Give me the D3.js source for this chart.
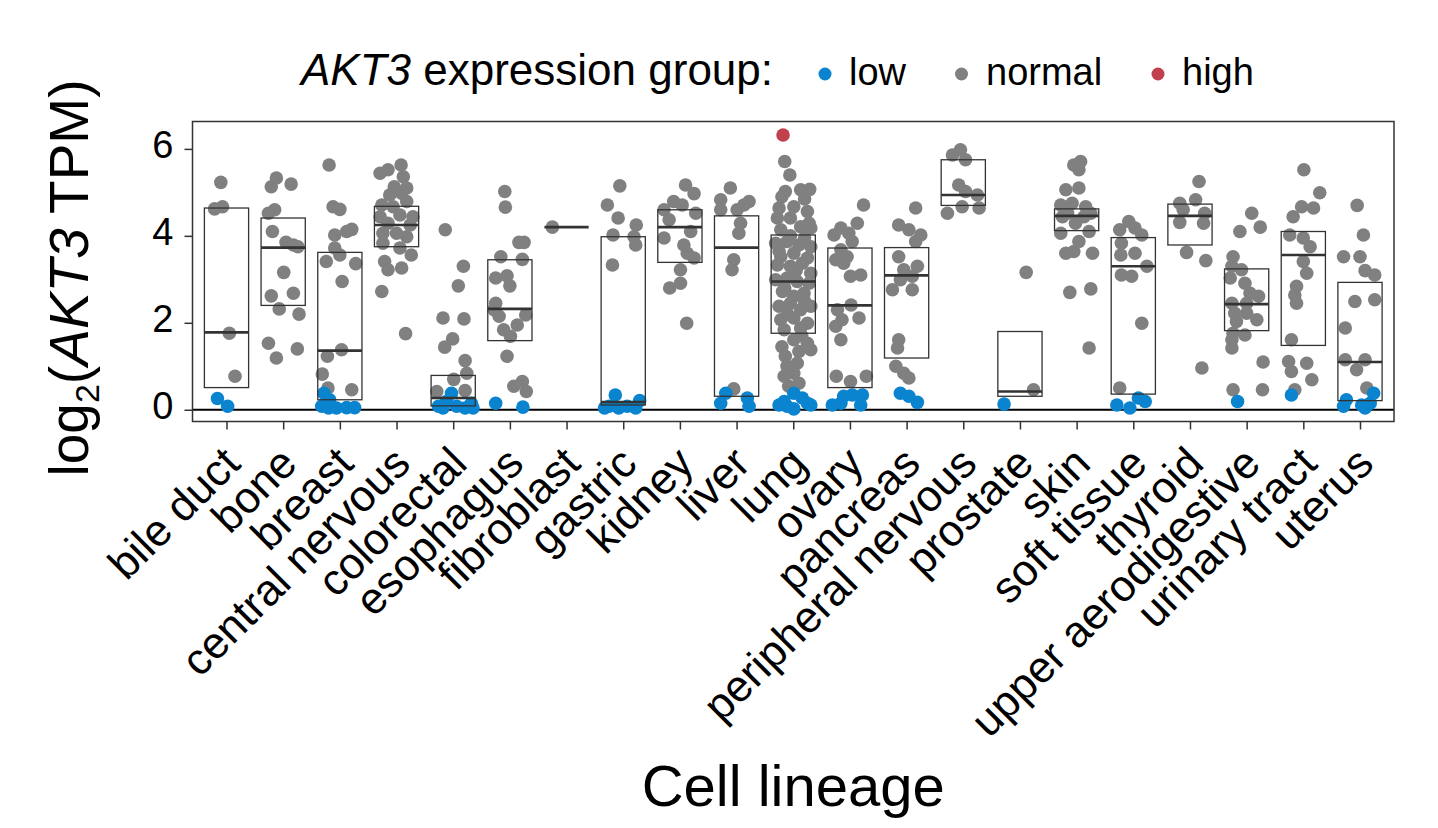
<!DOCTYPE html>
<html>
<head>
<meta charset="utf-8">
<script src="https://cdn.jsdelivr.net/npm/d3@7"></script>
<style>
  html, body { margin: 0; padding: 0; background: #fff; }
  svg { display: block; font-family: "Liberation Sans", Arial, Helvetica, sans-serif; }
</style>
</head>
<body>
<svg id="chart" width="1438" height="828"></svg>
<script>
// ---------------- DATA ----------------
const categories = ["bile duct","bone","breast","central nervous","colorectal","esophagus","fibroblast","gastric","kidney","liver","lung","ovary","pancreas","peripheral nervous","prostate","skin","soft tissue","thyroid","upper aerodigestive","urinary tract","uterus"];

// box statistics (Q1, median, Q3) per category
const boxQ1     = [0.51,2.40,0.23,3.75,0.09,1.59,4.20,0.11,3.39,0.31,1.76,0.51,1.19,4.70,0.31,4.12,0.36,3.79,1.82,1.48,0.21];
const boxMedian = [1.78,3.73,1.36,4.25,0.27,2.32,4.20,0.18,4.20,3.73,2.95,2.40,3.09,4.94,0.42,4.46,3.30,4.46,2.43,3.56,1.10];
const boxQ3     = [4.64,4.41,3.62,4.68,0.79,3.45,4.20,3.98,4.60,4.46,4.02,3.72,3.73,5.75,1.80,4.62,3.96,4.73,3.24,4.10,2.93];

const yTicks = [0, 2, 4, 6];
const groups = ["low", "normal", "high"];

// cell lines per lineage: [jitter (fraction of category step), log2 TPM, group]
const ptsBileDuct = [[-0.10,5.23,"n"],[-0.21,4.62,"n"],[-0.07,4.67,"n"],[0.05,1.76,"n"],[0.15,0.77,"n"],[-0.16,0.26,"l"],[0.02,0.08,"l"]];
const ptsBone = [[-0.12,5.33,"n"],[-0.21,5.13,"n"],[0.14,5.19,"n"],[-0.26,4.52,"n"],[-0.15,4.60,"n"],[-0.19,4.10,"n"],[0.05,3.85,"n"],[0.18,3.79,"n"],[0.26,3.75,"n"],[0.01,3.16,"n"],[-0.21,2.62,"n"],[0.18,2.68,"n"],[-0.07,2.32,"n"],[0.28,2.20,"n"],[-0.26,1.53,"n"],[-0.12,1.19,"n"],[0.25,1.40,"n"]];
const ptsBreast = [[-0.19,5.63,"n"],[-0.12,4.67,"n"],[0.00,4.61,"n"],[-0.09,4.02,"n"],[0.12,4.10,"n"],[0.21,4.15,"n"],[-0.09,3.72,"n"],[0.00,3.56,"n"],[-0.24,3.41,"n"],[0.28,3.36,"n"],[0.04,2.95,"n"],[0.03,1.38,"n"],[-0.22,1.23,"n"],[-0.31,0.82,"n"],[-0.21,0.50,"n"],[0.21,0.46,"n"],
  [-0.28,0.38,"l"],[-0.18,0.23,"l"],[-0.32,0.08,"l"],[-0.20,0.04,"l"],[-0.06,0.04,"l"],[0.12,0.05,"l"],[0.26,0.05,"l"]];
const ptsCentralNervous = [[0.08,5.63,"n"],[-0.29,5.44,"n"],[-0.15,5.52,"n"],[0.12,5.36,"n"],[-0.04,5.13,"n"],[0.18,5.10,"n"],[-0.12,4.94,"n"],[0.09,4.98,"n"],[-0.26,4.71,"n"],[0.18,4.79,"n"],[-0.06,4.67,"n"],[0.29,4.44,"n"],[-0.29,4.44,"n"],[0.06,4.48,"n"],[-0.15,4.29,"n"],[0.24,4.25,"n"],[-0.24,4.06,"n"],[0.00,4.06,"n"],[0.18,3.98,"n"],[-0.24,3.83,"n"],[0.06,3.72,"n"],[0.26,3.56,"n"],[-0.21,3.41,"n"],[0.09,3.26,"n"],[-0.15,3.22,"n"],[-0.26,2.72,"n"],[0.16,1.75,"n"]];
const ptsColorectal = [[-0.14,4.14,"n"],[0.18,3.30,"n"],[0.09,2.85,"n"],[-0.18,2.11,"n"],[0.19,2.09,"n"],[-0.01,1.63,"n"],[-0.15,1.44,"n"],[0.21,1.13,"n"],[0.01,0.70,"n"],[0.24,0.84,"n"],[-0.29,0.42,"n"],[0.21,0.44,"n"],
  [-0.26,0.08,"l"],[-0.12,0.19,"l"],[-0.03,0.38,"l"],[0.06,0.08,"l"],[0.21,0.04,"l"],[0.32,0.15,"l"],[-0.18,0.04,"l"],[0.35,0.04,"l"]];
const ptsEsophagus = [[-0.09,5.02,"n"],[-0.08,4.66,"n"],[0.16,3.85,"n"],[0.25,3.85,"n"],[-0.16,3.52,"n"],[0.22,3.46,"n"],[-0.25,3.03,"n"],[-0.05,3.08,"n"],[0.00,2.85,"n"],[-0.25,2.45,"n"],[-0.28,2.30,"n"],[-0.19,2.15,"n"],[0.28,2.18,"n"],[0.13,1.95,"n"],[-0.11,1.84,"n"],[0.01,1.69,"n"],[-0.05,1.23,"n"],[0.07,0.54,"n"],[0.22,0.65,"n"],[0.29,0.42,"n"],
  [-0.25,0.15,"l"],[0.23,0.06,"l"]];
const ptsFibroblast = [[-0.25,4.20,"n"]];
const ptsGastric = [[-0.06,5.15,"n"],[-0.28,4.71,"n"],[-0.09,4.41,"n"],[0.23,4.25,"n"],[-0.18,4.02,"n"],[0.19,3.98,"n"],[0.22,3.79,"n"],[-0.19,3.33,"n"],
  [-0.14,0.34,"l"],[-0.25,0.08,"l"],[-0.08,0.04,"l"],[0.07,0.08,"l"],[0.22,0.04,"l"],[0.29,0.21,"l"],[-0.33,0.04,"l"]];
const ptsKidney = [[0.10,5.17,"n"],[0.25,4.97,"n"],[-0.11,4.79,"n"],[0.04,4.71,"n"],[-0.28,4.60,"n"],[0.28,4.52,"n"],[-0.19,4.37,"n"],[0.19,4.10,"n"],[-0.28,3.95,"n"],[0.07,3.79,"n"],[0.13,3.60,"n"],[0.25,3.49,"n"],[0.01,3.22,"n"],[0.01,2.91,"n"],[-0.18,2.80,"n"],[0.12,1.99,"n"]];
const ptsLiver = [[-0.11,5.10,"n"],[-0.28,4.83,"n"],[0.22,4.79,"n"],[0.01,4.60,"n"],[0.13,4.71,"n"],[-0.28,4.60,"n"],[0.07,4.29,"n"],[0.04,4.06,"n"],[-0.05,3.45,"n"],[-0.08,3.22,"n"],[-0.05,0.48,"n"],
  [-0.19,0.38,"l"],[-0.28,0.15,"l"],[0.19,0.27,"l"],[0.22,0.08,"l"]];
const ptsLung = [[-0.18,6.32,"h"],
  [-0.15,5.71,"n"],[-0.06,5.40,"n"],[-0.14,5.02,"n"],[0.13,5.06,"n"],[0.29,5.07,"n"],[-0.20,4.90,"n"],[0.20,4.85,"n"],
  [-0.25,4.64,"n"],[0.01,4.67,"n"],[0.25,4.56,"n"],[-0.28,4.41,"n"],[-0.05,4.41,"n"],[0.28,4.29,"n"],
  [-0.22,4.14,"n"],[0.13,4.21,"n"],[0.31,4.18,"n"],[-0.05,4.00,"n"],[0.20,3.95,"n"],
  [-0.31,3.83,"n"],[-0.11,3.87,"n"],[0.10,3.79,"n"],[0.31,3.75,"n"],[-0.25,3.65,"n"],
  [-0.22,3.52,"n"],[0.01,3.60,"n"],[0.25,3.49,"n"],[-0.28,3.33,"n"],[-0.05,3.30,"n"],[0.16,3.37,"n"],[0.31,3.14,"n"],[0.05,3.20,"n"],
  [-0.31,2.99,"n"],[-0.11,3.03,"n"],[0.07,2.95,"n"],[0.28,2.91,"n"],[-0.15,2.80,"n"],
  [-0.19,2.72,"n"],[0.01,2.61,"n"],[0.19,2.68,"n"],[0.20,2.50,"n"],
  [-0.25,2.38,"n"],[-0.05,2.45,"n"],[0.13,2.30,"n"],[0.31,2.38,"n"],[-0.10,2.20,"n"],
  [-0.22,2.07,"n"],[0.01,2.11,"n"],[0.25,1.99,"n"],[-0.16,1.84,"n"],[0.13,1.88,"n"],[0.15,1.70,"n"],
  [0.01,1.61,"n"],[0.25,1.53,"n"],[-0.20,1.45,"n"],[-0.14,1.23,"n"],[0.10,1.34,"n"],[0.31,1.38,"n"],
  [-0.11,1.00,"n"],[0.07,1.07,"n"],[-0.16,0.77,"n"],[0.01,0.84,"n"],[-0.08,0.54,"n"],[0.10,0.61,"n"],
  [-0.25,0.11,"l"],[0.01,0.38,"l"],[0.16,0.27,"l"],[0.31,0.11,"l"],[-0.11,0.08,"l"],[0.01,0.02,"l"],[0.25,0.15,"l"],[-0.16,0.19,"l"]];
const ptsOvary = [[0.24,4.71,"n"],[0.13,4.29,"n"],[-0.16,4.18,"n"],[-0.02,4.06,"n"],[-0.28,4.02,"n"],[0.04,3.87,"n"],[-0.16,3.68,"n"],[-0.05,3.52,"n"],[-0.25,3.45,"n"],[-0.11,3.37,"n"],[0.01,3.07,"n"],[0.19,3.10,"n"],[0.02,2.41,"n"],[-0.22,2.30,"n"],[-0.14,2.07,"n"],[0.16,2.11,"n"],[-0.25,1.92,"n"],[-0.16,1.61,"n"],[-0.24,0.77,"n"],[0.01,0.65,"n"],[0.29,0.77,"n"],
  [-0.31,0.11,"l"],[-0.11,0.31,"l"],[0.04,0.34,"l"],[0.22,0.34,"l"],[0.19,0.11,"l"],[-0.16,0.15,"l"]];
const ptsPancreas = [[0.16,4.64,"n"],[-0.14,4.25,"n"],[0.04,4.14,"n"],[0.25,4.02,"n"],[0.16,3.87,"n"],[-0.14,3.52,"n"],[0.19,3.30,"n"],[-0.05,3.22,"n"],[-0.11,2.99,"n"],[0.10,3.07,"n"],[-0.25,2.76,"n"],[0.10,2.76,"n"],[-0.14,1.61,"n"],[-0.16,1.42,"n"],[-0.19,1.00,"n"],[0.04,0.73,"n"],[-0.05,0.84,"n"],
  [-0.11,0.38,"l"],[0.04,0.31,"l"],[0.19,0.17,"l"]];
const ptsPeripheralNervous = [[-0.05,5.98,"n"],[-0.19,5.86,"n"],[0.04,5.75,"n"],[-0.08,5.17,"n"],[0.04,5.02,"n"],[0.25,4.94,"n"],[-0.28,4.52,"n"],[-0.02,4.67,"n"],[0.28,4.64,"n"]];
const ptsProstate = [[0.11,3.16,"n"],[0.24,0.46,"n"],[-0.28,0.13,"l"]];
const ptsSkin = [[0.07,5.71,"n"],[-0.05,5.63,"n"],[0.04,5.52,"n"],[-0.19,5.06,"n"],[0.04,5.10,"n"],[-0.28,4.71,"n"],[-0.08,4.75,"n"],[0.16,4.67,"n"],[-0.25,4.44,"n"],[0.25,4.52,"n"],[-0.16,4.52,"n"],[0.13,4.44,"n"],[-0.02,4.29,"n"],[-0.28,4.06,"n"],[0.22,4.10,"n"],[0.04,3.87,"n"],[-0.19,3.60,"n"],[0.28,3.60,"n"],[-0.05,3.64,"n"],[-0.12,2.70,"n"],[0.25,2.78,"n"],[0.22,1.42,"n"]];
const ptsSoftTissue = [[-0.08,4.33,"n"],[-0.24,4.14,"n"],[0.03,4.18,"n"],[0.15,4.02,"n"],[-0.21,3.83,"n"],[-0.22,3.56,"n"],[0.03,3.60,"n"],[0.24,3.30,"n"],[-0.21,3.10,"n"],[-0.03,3.07,"n"],[0.15,1.99,"n"],[-0.24,0.50,"n"],
  [-0.29,0.11,"l"],[-0.06,0.04,"l"],[0.09,0.27,"l"],[0.21,0.19,"l"]];
const ptsThyroid = [[0.16,5.25,"n"],[-0.18,4.75,"n"],[0.10,4.83,"n"],[-0.12,4.60,"n"],[0.26,4.52,"n"],[-0.18,4.31,"n"],[0.24,4.29,"n"],[-0.06,3.62,"n"],[0.28,3.43,"n"],[0.21,0.96,"n"]];
const ptsUpperAerodigestive = [[0.09,4.52,"n"],[-0.12,4.10,"n"],[0.24,4.20,"n"],[-0.24,3.52,"n"],[-0.26,3.30,"n"],[-0.09,3.22,"n"],[-0.29,3.03,"n"],[-0.03,2.91,"n"],[0.06,2.68,"n"],[0.21,2.61,"n"],[-0.26,2.45,"n"],[0.00,2.45,"n"],[-0.21,2.22,"n"],[0.00,2.22,"n"],[-0.18,2.03,"n"],[0.18,2.07,"n"],[-0.24,1.76,"n"],[-0.03,1.72,"n"],[-0.26,1.61,"n"],[-0.26,1.42,"n"],[0.29,1.10,"n"],[-0.24,0.46,"n"],[0.28,0.46,"n"],
  [-0.16,0.19,"l"]];
const ptsUrinaryTract = [[0.01,5.52,"n"],[0.29,4.99,"n"],[-0.03,4.67,"n"],[0.18,4.64,"n"],[-0.18,4.44,"n"],[-0.24,4.02,"n"],[0.00,3.95,"n"],[0.12,3.75,"n"],[0.00,3.41,"n"],[0.06,3.14,"n"],[-0.12,2.84,"n"],[-0.15,2.64,"n"],[-0.12,2.45,"n"],[-0.21,1.61,"n"],[-0.26,1.11,"n"],[0.06,1.07,"n"],[-0.21,0.88,"n"],[0.15,0.69,"n"],[-0.15,0.46,"n"],
  [-0.21,0.34,"l"]];
const ptsUterus = [[-0.05,4.70,"n"],[0.06,4.02,"n"],[-0.29,3.52,"n"],[0.00,3.52,"n"],[0.09,3.20,"n"],[0.26,3.10,"n"],[-0.09,2.49,"n"],[0.26,2.53,"n"],[-0.26,1.88,"n"],[-0.26,1.15,"n"],[0.09,1.15,"n"],[-0.06,0.92,"n"],[0.12,0.50,"n"],
  [-0.29,0.08,"l"],[-0.24,0.23,"l"],[0.09,0.04,"l"],[0.18,0.15,"l"],[0.24,0.38,"l"],[0.03,0.11,"l"]];

const pointsByCategory = [ptsBileDuct, ptsBone, ptsBreast, ptsCentralNervous, ptsColorectal, ptsEsophagus, ptsFibroblast, ptsGastric, ptsKidney, ptsLiver, ptsLung, ptsOvary, ptsPancreas, ptsPeripheralNervous, ptsProstate, ptsSkin, ptsSoftTissue, ptsThyroid, ptsUpperAerodigestive, ptsUrinaryTract, ptsUterus];

// ---------------- CHART ----------------
const colors = { l: "#0a84cf", n: "#808080", h: "#c1404e" };
const groupKey = { low: "l", normal: "n", high: "h" };
const svg = d3.select("#chart");
const P = { left: 192.5, right: 1394, top: 121.5, bottom: 421.5 };

const x = d3.scalePoint().domain(categories).range([P.left, P.right]).padding(0.6);
const step = x.step();
const y = d3.scaleLinear().domain([-0.27, 6.63]).range([P.bottom, P.top]);

const points = [];
pointsByCategory.forEach((arr, i) => arr.forEach(d => points.push({ cat: categories[i], j: d[0], v: d[1], g: d[2] })));
const boxes = categories.map((c, i) => ({ cat: c, q1: boxQ1[i], med: boxMedian[i], q3: boxQ3[i] }));

const plot = svg.append("g");

// zero line
plot.append("line")
  .attr("x1", P.left).attr("x2", P.right)
  .attr("y1", y(0)).attr("y2", y(0))
  .attr("stroke", "#000").attr("stroke-width", 2);

// points
plot.append("g").selectAll("circle").data(points).join("circle")
  .attr("cx", d => x(d.cat) + d.j * step)
  .attr("cy", d => y(d.v))
  .attr("r", 6.8)
  .attr("fill", d => colors[d.g]);

// boxes
const bw = 0.78 * step;
const bg = plot.append("g").selectAll("g").data(boxes).join("g");
bg.append("rect")
  .attr("x", d => x(d.cat) - bw / 2)
  .attr("width", bw)
  .attr("y", d => y(d.q3))
  .attr("height", d => y(d.q1) - y(d.q3))
  .attr("fill", "none").attr("stroke", "#333").attr("stroke-width", 1.3);
bg.append("line")
  .attr("x1", d => x(d.cat) - bw / 2).attr("x2", d => x(d.cat) + bw / 2)
  .attr("y1", d => y(d.med)).attr("y2", d => y(d.med))
  .attr("stroke", "#333").attr("stroke-width", 2.6);

// panel border
svg.append("rect")
  .attr("x", P.left).attr("y", P.top)
  .attr("width", P.right - P.left).attr("height", P.bottom - P.top)
  .attr("fill", "none").attr("stroke", "#333").attr("stroke-width", 1.5);

// y axis
const yAxis = svg.append("g").attr("transform", `translate(${P.left},0)`)
  .call(d3.axisLeft(y).tickValues(yTicks).tickSize(8).tickPadding(11).tickFormat(d3.format("d")));
yAxis.select(".domain").remove();
yAxis.selectAll(".tick line").attr("stroke", "#333").attr("stroke-width", 1.5);
yAxis.selectAll(".tick text").attr("font-size", 38).attr("fill", "#000")
  .attr("dy", "0.22em")
  .attr("font-family", "Liberation Sans, Arial, sans-serif");

// x axis
const xAxis = svg.append("g").attr("transform", `translate(0,${P.bottom})`)
  .call(d3.axisBottom(x).tickSize(8).tickPadding(4));
xAxis.select(".domain").remove();
xAxis.selectAll(".tick line").attr("stroke", "#333").attr("stroke-width", 1.5);
xAxis.selectAll(".tick text")
  .attr("font-size", 44).attr("fill", "#000")
  .attr("font-family", "Liberation Sans, Arial, sans-serif")
  .attr("text-anchor", "end")
  .attr("x", 0).attr("y", 0).attr("dy", "0.72em")
  .attr("transform", "translate(-7,22) rotate(-45)");

// axis titles
svg.append("text")
  .attr("x", (P.left + P.right) / 2).attr("y", 806)
  .attr("text-anchor", "middle").attr("font-size", 58).attr("fill", "#000")
  .text("Cell lineage");

const yt = svg.append("text")
  .attr("transform", `translate(88,278) rotate(-90)`)
  .attr("text-anchor", "middle").attr("font-size", 55).attr("fill", "#000");
yt.append("tspan").text("log");
yt.append("tspan").attr("font-size", 34).attr("dy", 11).text("2");
yt.append("tspan").attr("dy", -11).text("(");
yt.append("tspan").attr("font-style", "italic").text("AKT3");
yt.append("tspan").text(" TPM)");

// legend
const lg = svg.append("g");
const lt = lg.append("text").attr("x", 301).attr("y", 85).attr("font-size", 44).attr("fill", "#000");
lt.append("tspan").attr("font-style", "italic").text("AKT3");
lt.append("tspan").text(" expression group:");

const legendItems = [
  { label: "low", cx: 825, tx: 849 },
  { label: "normal", cx: 961.5, tx: 986 },
  { label: "high", cx: 1158, tx: 1182 }
];
const li = lg.selectAll("g.item").data(legendItems).join("g").attr("class", "item");
li.append("circle").attr("cx", d => d.cx).attr("cy", 74).attr("r", 6.5)
  .attr("fill", d => colors[groupKey[d.label]]);
li.append("text").attr("x", d => d.tx).attr("y", 85).attr("font-size", 38).attr("fill", "#000")
  .text(d => d.label);
</script>
</body>
</html>
